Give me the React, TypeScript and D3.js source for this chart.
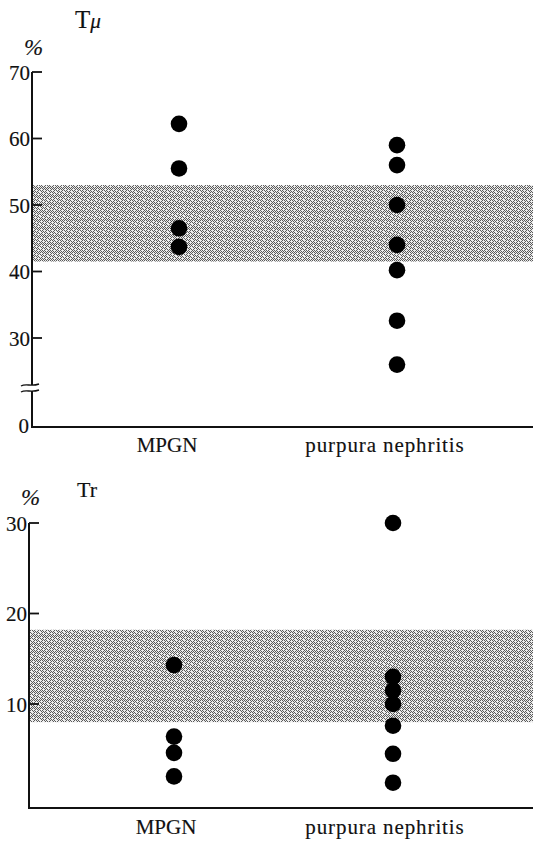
import { useMemo } from "react";
import * as d3 from "d3";

// values
const categories = ["MPGN", "purpura nephritis"];

const tmuMPGN = [62.2, 55.5, 46.5, 43.7];
const tmuPurpura = [59, 56, 50, 44, 40.2, 32.6, 26];
const tmuTicks = [30, 40, 50, 60, 70];
const tmuNormal = [41.5, 53];

const trMPGN = [14.3, 6.4, 4.6, 2.0];
const trPurpura = [30, 13, 11.5, 10, 7.6, 4.5, 1.3];
const trTicks = [10, 20, 30];
const trNormal = [8, 18.2];

const W = 533;
const H = 842;
const FONT = "'Liberation Serif', 'DejaVu Serif', serif";

// halftone screen cells (x,y) inside an 8x8 tile, a checkerboard with a few gaps
const screenCells: [number, number][] = [];
for (let y = 0; y < 8; y++) {
  for (let x = 0; x < 8; x++) {
    if ((x + y) % 2 === 0 && !((x * 3 + y * 5) % 7 === 0)) screenCells.push([x, y]);
  }
}

type PanelProps = {
  title: string;
  titleItalic?: string;
  titleSize: number;
  titleX: number;
  titleY: number;
  pctX: number;
  pctY: number;
  axisX: number;
  baseY: number;
  yTop: number;
  yBottom: number;
  domain: [number, number];
  ticks: number[];
  normal: number[];
  series: number[][];
  xRange: [number, number];
  labelShift: number;
  labelY: number;
  breakAt?: number;
};

const DotPanel = (p: PanelProps) => {
  const yScale = useMemo(
    () => d3.scaleLinear().domain(p.domain).range([p.yBottom, p.yTop]),
    [p.domain, p.yBottom, p.yTop]
  );
  const xScale = useMemo(
    () => d3.scalePoint<string>().domain(categories).range(p.xRange),
    [p.xRange]
  );

  const bandTop = yScale(p.normal[1]);
  const bandBot = yScale(p.normal[0]);

  // break mark: two short wavy strokes across the axis
  const wave = (y: number) => {
    const x0 = p.axisX - 11;
    const x1 = p.axisX + 7;
    return `M${x0},${y + 1} C${x0 + 5},${y - 2} ${x1 - 8},${y + 2} ${x1},${y - 1}`;
  };

  const ySegments: [number, number][] = p.breakAt
    ? [
        [yScale(p.domain[1]), p.breakAt - 2],
        [p.breakAt + 4, p.baseY],
      ]
    : [[yScale(p.domain[1]), p.baseY]];

  const ink = { stroke: "#111", strokeWidth: 0.15 };

  return (
    <g fontFamily={FONT} fill="#111">
      {/* normal range */}
      <rect
        x={p.axisX + 1}
        y={bandTop}
        width={W - p.axisX - 1}
        height={bandBot - bandTop}
        fill="url(#halftone)"
      />
      {/* y axis */}
      {ySegments.map(([a, b], i) => (
        <line
          key={i}
          x1={p.axisX}
          x2={p.axisX}
          y1={a}
          y2={b}
          stroke="#111"
          strokeWidth={2}
        />
      ))}
      {p.breakAt && (
        <g fill="none" stroke="#111" strokeWidth={1.4}>
          <path d={wave(p.breakAt - 2)} />
          <path d={wave(p.breakAt + 4)} />
        </g>
      )}
      {p.ticks.map((t) => (
        <g key={t}>
          <line
            x1={p.axisX}
            x2={p.axisX + 10}
            y1={yScale(t)}
            y2={yScale(t)}
            stroke="#111"
            strokeWidth={1.8}
          />
          <text
            x={p.axisX - 2}
            y={yScale(t)}
            dy="0.36em"
            textAnchor="end"
            fontSize={21}
            {...ink}
          >
            {t}
          </text>
        </g>
      ))}
      {p.breakAt && (
        <text
          x={p.axisX - 3}
          y={p.baseY}
          dy="0.3em"
          textAnchor="end"
          fontSize={21}
          {...ink}
        >
          0
        </text>
      )}
      {/* x axis */}
      <line
        x1={p.axisX - 1}
        x2={W}
        y1={p.baseY}
        y2={p.baseY}
        stroke="#111"
        strokeWidth={2}
      />
      {categories.map((c) => (
        <text
          key={c}
          x={(xScale(c) as number) + p.labelShift}
          y={p.labelY}
          textAnchor="middle"
          fontSize={21}
          letterSpacing={c.length > 5 ? 0.9 : 0}
          {...ink}
        >
          {c}
        </text>
      ))}
      {/* dots */}
      {p.series.map((vals, i) =>
        vals.map((v, j) => (
          <circle
            key={`${i}-${j}`}
            cx={xScale(categories[i]) as number}
            cy={yScale(v)}
            r={8.3}
            fill="#000"
          />
        ))
      )}
      {/* labels */}
      <text x={p.pctX} y={p.pctY} fontSize={23} fontStyle="italic" {...ink}>
        %
      </text>
      <text x={p.titleX} y={p.titleY} fontSize={p.titleSize} {...ink}>
        {p.title}
        {p.titleItalic && (
          <tspan fontStyle="italic" fontSize={p.titleSize * 0.85}>
            {p.titleItalic}
          </tspan>
        )}
      </text>
    </g>
  );
};

export default function App() {
  return (
    <svg
      width={W}
      height={H}
      style={{ position: "absolute", left: 0, top: 0, background: "#fff" }}
    >
      <defs>
        <pattern id="halftone" width={8} height={8} patternUnits="userSpaceOnUse">
          <rect width={8} height={8} fill="#ececec" />
          {screenCells.map(([x, y]) => (
            <rect key={`${x}-${y}`} x={x} y={y} width={1} height={1} fill="#5a5a5a" />
          ))}
        </pattern>
      </defs>
      <DotPanel
        title="T"
        titleItalic="μ"
        titleSize={25}
        titleX={75}
        titleY={28}
        pctX={24}
        pctY={55}
        axisX={32}
        baseY={427}
        yTop={72}
        yBottom={338}
        domain={[30, 70]}
        ticks={tmuTicks}
        normal={tmuNormal}
        series={[tmuMPGN, tmuPurpura]}
        xRange={[179, 397]}
        labelShift={-12}
        labelY={452}
        breakAt={387}
      />
      <DotPanel
        title="Tr"
        titleSize={22}
        titleX={77}
        titleY={497}
        pctX={21}
        pctY={505}
        axisX={29}
        baseY={808}
        yTop={523}
        yBottom={704}
        domain={[10, 30]}
        ticks={trTicks}
        normal={trNormal}
        series={[trMPGN, trPurpura]}
        xRange={[174, 393]}
        labelShift={-8}
        labelY={834}
      />
    </svg>
  );
}
